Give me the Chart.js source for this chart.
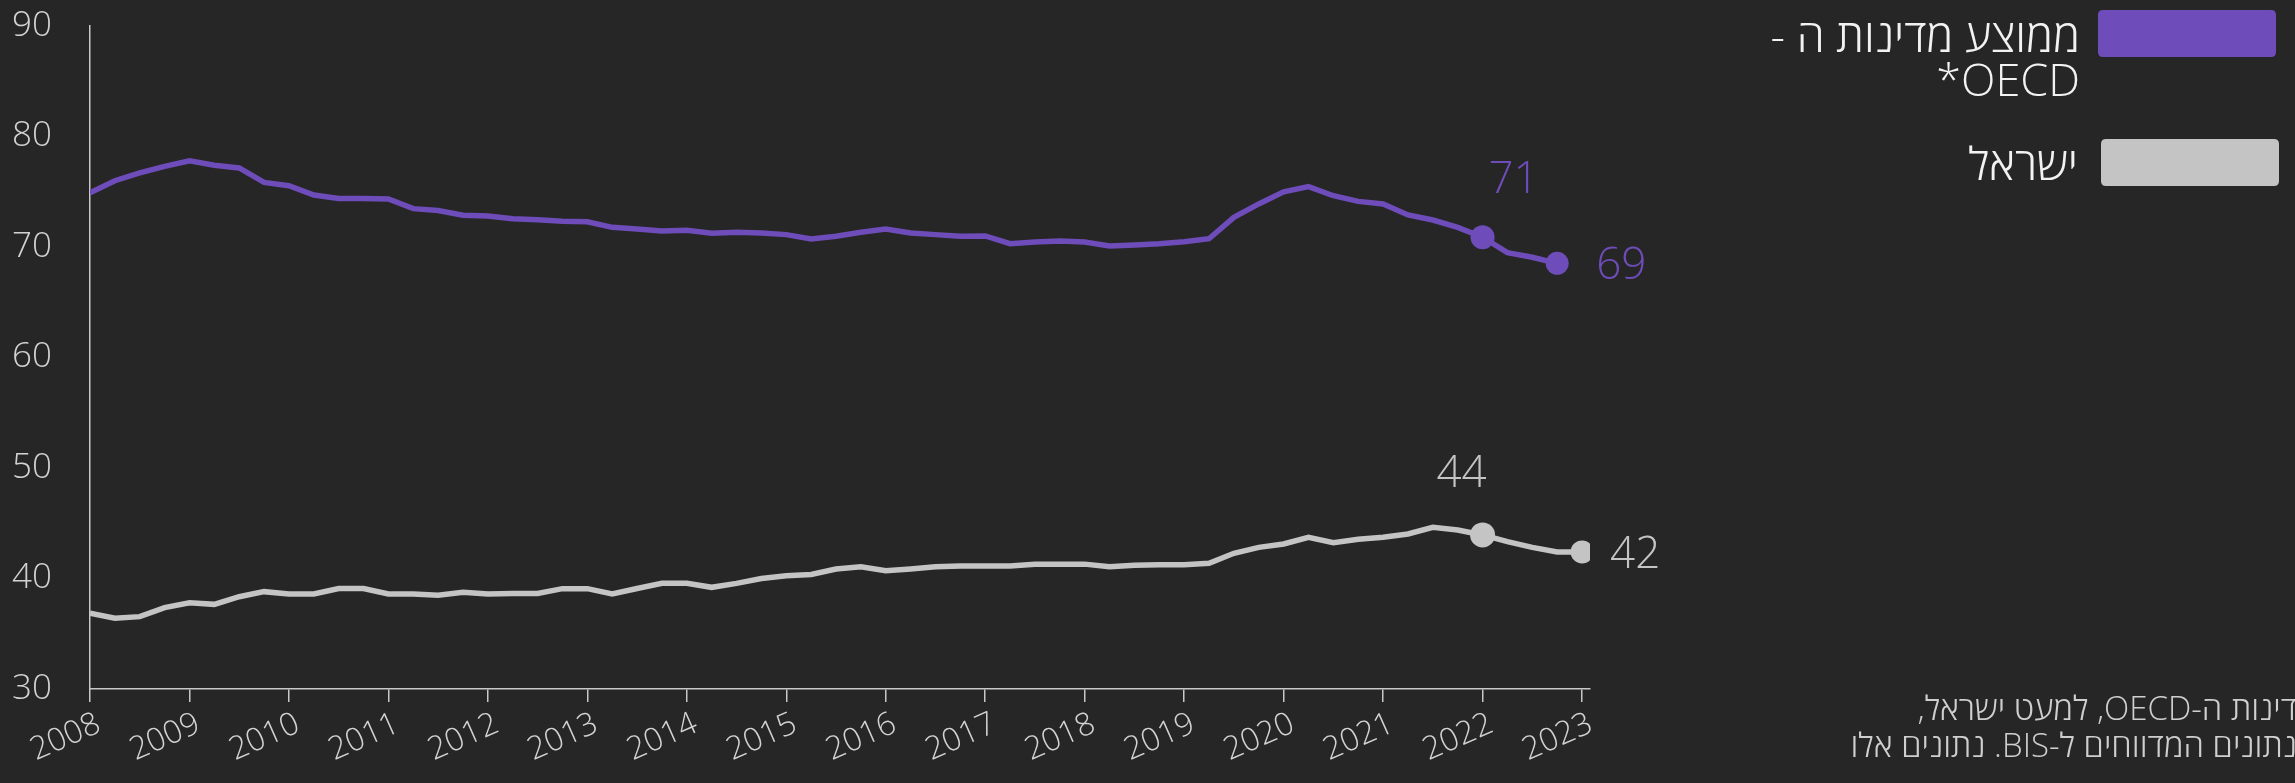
<!DOCTYPE html>
<html lang="he">
<head>
<meta charset="utf-8">
<title>chart</title>
<script src="https://cdn.jsdelivr.net/npm/chart.js@4.4.1/dist/chart.umd.min.js"></script>
<style>
  html, body { margin: 0; padding: 0; background: #262626; overflow: hidden; }
  #wrap { width: 2295px; height: 783px; }
</style>
</head>
<body>
<div id="wrap"><canvas id="myChart" width="2295" height="783"></canvas></div>
<script>
// data - quarterly, first quarter 2008
const firstYear = 2008;
const years = [2008, 2009, 2010, 2011, 2012, 2013, 2014, 2015, 2016, 2017, 2018, 2019, 2020, 2021, 2022, 2023];
const yTicks = [30, 40, 50, 60, 70, 80, 90];

const seriesNames = ['ממוצע מדינות ה -OECD*', 'ישראל'];

const oecdValues = [
  74.9, 76.0, 76.7, 77.3, 77.8, 77.4, 77.15, 75.85, 75.55, 74.7,
  74.4, 74.4, 74.35, 73.47, 73.3, 72.87, 72.8, 72.56, 72.47, 72.32,
  72.29, 71.78, 71.63, 71.45, 71.51, 71.24, 71.33, 71.27, 71.12, 70.72,
  70.97, 71.33, 71.63, 71.27, 71.12, 70.97, 71.0, 70.3, 70.45, 70.54,
  70.45, 70.1, 70.18, 70.3, 70.48, 70.75, 72.68, 73.9, 75.0, 75.46,
  74.64, 74.13, 73.9, 72.9, 72.44, 71.78, 70.88, 69.49, 69.07, 68.52
];

const israelValues = [
  36.85, 36.4, 36.55, 37.36, 37.8, 37.66, 38.35, 38.81, 38.6, 38.6,
  39.1, 39.1, 38.6, 38.6, 38.48, 38.75, 38.6, 38.65, 38.65, 39.08,
  39.08, 38.6, 39.1, 39.56, 39.56, 39.2, 39.56, 40.0, 40.25, 40.37,
  40.86, 41.07, 40.7, 40.86, 41.07, 41.13, 41.13, 41.13, 41.3, 41.3,
  41.3, 41.07, 41.19, 41.25, 41.25, 41.37, 42.28, 42.82, 43.12, 43.73,
  43.24, 43.55, 43.73, 44.03, 44.63, 44.39, 43.94, 43.33, 42.82, 42.4,
  42.4
];

const footnoteLines = ['דינות ה-OECD, למעט ישראל,', 'נתונים המדווחים ל-BIS. נתונים אלו'];

const purple = '#6e4cb9';
const grey = '#c4c4c4';
const axisColor = '#c8c8c8';
const tickColor = '#d2d2d2';
const font = '"Open Sans", "DejaVu Sans", sans-serif';

const toPoints = vals => vals.map((v, i) => ({ x: firstYear + i / 4, y: v }));

// big dots only on the marked quarters
const dotRadius = (len, marks) => {
  const r = new Array(len).fill(0);
  Object.keys(marks).forEach(k => { r[k] = marks[k]; });
  return r;
};

// value tags next to the big dots
const valueTags = [
  { ds: 0, i: 56, dx: 31, dy: -57, align: 'center' },
  { ds: 0, i: 59, dx: 39, dy: 3, align: 'left' },
  { ds: 1, i: 56, dx: -21, dy: -60, align: 'center' },
  { ds: 1, i: 60, dx: 28, dy: 3, align: 'left' }
];

const roundBox = (ctx, x, y, w, h, r) => {
  ctx.beginPath();
  ctx.moveTo(x + r, y);
  ctx.lineTo(x + w - r, y);
  ctx.quadraticCurveTo(x + w, y, x + w, y + r);
  ctx.lineTo(x + w, y + h - r);
  ctx.quadraticCurveTo(x + w, y + h, x + w - r, y + h);
  ctx.lineTo(x + r, y + h);
  ctx.quadraticCurveTo(x, y + h, x, y + h - r);
  ctx.lineTo(x, y + r);
  ctx.quadraticCurveTo(x, y, x + r, y);
  ctx.closePath();
  ctx.fill();
};

const overlay = {
  id: 'overlay',
  afterDatasetsDraw(chart) {
    const { ctx, scales: { x, y } } = chart;
    ctx.save();
    ctx.font = '300 44px ' + font;
    ctx.textBaseline = 'middle';
    valueTags.forEach(t => {
      const ds = chart.data.datasets[t.ds];
      const pt = ds.data[t.i];
      ctx.fillStyle = ds.borderColor;
      ctx.textAlign = t.align;
      ctx.fillText(String(Math.round(pt.y)), x.getPixelForValue(pt.x) + t.dx, y.getPixelForValue(pt.y) + t.dy);
    });

    // legend (right side)
    ctx.fillStyle = purple;
    roundBox(ctx, 2098, 10, 178, 47, 5);
    ctx.fillStyle = grey;
    roundBox(ctx, 2101, 139, 178, 47, 5);

    ctx.direction = 'rtl';
    ctx.textAlign = 'right';
    ctx.textBaseline = 'alphabetic';
    ctx.fillStyle = '#f2f2f2';
    ctx.font = '300 45px ' + font;
    ctx.fillText('ממוצע מדינות ה -', 2080, 52);
    ctx.fillText('OECD*', 2080, 96);
    ctx.fillText(seriesNames[1], 2078, 180);

    // footnote, runs off the right edge
    ctx.fillStyle = '#cfcfcf';
    ctx.font = '300 33px ' + font;
    ctx.fillText(footnoteLines[0], 2297, 720);
    ctx.fillText(footnoteLines[1], 2297, 757);
    ctx.restore();
  }
};

const ctx = document.getElementById('myChart').getContext('2d');
const chart = new Chart(ctx, {
  type: 'line',
  data: {
    datasets: [
      {
        label: seriesNames[0],
        data: toPoints(oecdValues),
        borderColor: purple,
        backgroundColor: purple,
        borderWidth: 5.5,
        pointRadius: dotRadius(oecdValues.length, { 56: 12, 59: 11.5 }),
        pointBorderWidth: 0,
        tension: 0
      },
      {
        label: seriesNames[1],
        data: toPoints(israelValues),
        borderColor: grey,
        backgroundColor: grey,
        borderWidth: 5.5,
        pointRadius: dotRadius(israelValues.length, { 56: 12.5, 60: 11.5 }),
        pointBorderWidth: 0,
        tension: 0
      }
    ]
  },
  options: {
    responsive: false,
    animation: false,
    devicePixelRatio: 1,
    layout: { padding: { left: 0, right: 705, top: 26, bottom: 0 } },
    plugins: {
      legend: { display: false },
      tooltip: { enabled: false }
    },
    scales: {
      x: {
        type: 'linear',
        min: 2008,
        max: 2023.08,
        afterBuildTicks: scale => { scale.ticks = years.map(v => ({ value: v })); },
        afterFit: scale => {
          scale.height = 94;
          scale.paddingLeft = 0;
          scale.paddingRight = 0;
        },
        border: { color: axisColor, width: 1.5 },
        grid: { drawOnChartArea: false, drawTicks: true, tickLength: 13, color: axisColor, lineWidth: 1.5 },
        ticks: {
          autoSkip: false,
          minRotation: 24,
          maxRotation: 24,
          padding: 3,
          labelOffset: 9,
          color: tickColor,
          font: { family: font, size: 32, weight: '300' },
          callback: v => String(v)
        }
      },
      y: {
        min: 30,
        max: 90,
        afterBuildTicks: scale => { scale.ticks = yTicks.map(v => ({ value: v })); },
        afterFit: scale => {
          scale.width = 90;
          scale.paddingTop = 0;
          scale.paddingBottom = 0;
        },
        border: { color: axisColor, width: 1.5 },
        grid: { display: false, drawTicks: false },
        ticks: {
          padding: 38,
          color: tickColor,
          font: { family: font, size: 35, weight: '300' }
        }
      }
    }
  },
  plugins: [overlay]
});
</script>
</body>
</html>
